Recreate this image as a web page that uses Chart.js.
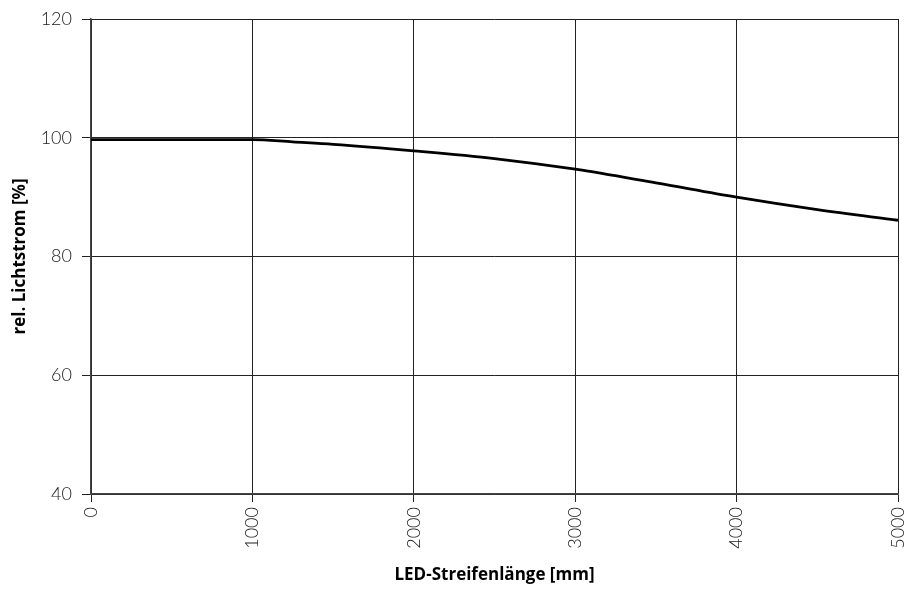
<!DOCTYPE html>
<html lang="de">
<head>
    <meta charset="UTF-8">
    <title>Lichtstrom vs. LED-Streifenlänge</title>
    <script src="https://cdn.jsdelivr.net/npm/chart.js"></script>
    <style>
        html, body { margin: 0; padding: 0; background: #fff; }
        #wrap { width: 909px; height: 590px; }
    </style>
</head>
<body>
<div id="wrap"><canvas id="chart"></canvas></div>
<script>
    // Werte
    const lengths = [0, 1000, 1250, 1500, 2000, 2500, 3000, 3500, 4000, 4500, 5000];
    const flux = [99.7, 99.7, 99.3, 98.9, 97.8, 96.5, 94.7, 92.4, 90.0, 87.9, 86.1];
    const xTicks = [0, 1000, 2000, 3000, 4000, 5000];
    const yTicks = [40, 60, 80, 100, 120];

    const points = lengths.map((x, i) => ({ x: x, y: flux[i] }));

    const tickFont = { family: 'Lato', size: 18, weight: '300' };
    const titleFont = { family: 'Open Sans', size: 17, weight: 'bold' };

    new Chart(document.getElementById('chart'), {
        type: 'line',
        data: {
            datasets: [{
                data: points,
                borderColor: '#000',
                borderWidth: 2.8,
                pointRadius: 0,
                tension: 0.3,
                cubicInterpolationMode: 'monotone',
                fill: false
            }]
        },
        options: {
            responsive: true,
            maintainAspectRatio: false,
            animation: false,
            layout: { padding: { top: 19, right: 11, left: 0, bottom: 0 } },
            plugins: { legend: { display: false }, tooltip: { enabled: false } },
            scales: {
                x: {
                    type: 'linear',
                    min: 0,
                    max: 5000,
                    afterBuildTicks: axis => { axis.ticks = xTicks.map(v => ({ value: v })); },
                    afterFit: axis => {
                        axis.height = 96;
                        axis.paddingLeft = 0;
                        axis.paddingRight = 0;
                    },
                    grid: { color: '#222', lineWidth: 1, tickLength: 8 },
                    border: { color: '#444', width: 1.5 },
                    ticks: {
                        color: '#1a1a1a',
                        font: tickFont,
                        maxRotation: 90,
                        minRotation: 90,
                        padding: 5,
                        callback: v => String(v)
                    },
                    title: {
                        display: true,
                        text: 'LED-Streifenlänge [mm]',
                        color: '#000',
                        font: titleFont,
                        padding: { top: 0, bottom: 5 }
                    }
                },
                y: {
                    min: 40,
                    max: 120,
                    afterBuildTicks: axis => { axis.ticks = yTicks.map(v => ({ value: v })); },
                    afterFit: axis => {
                        axis.width = 91;
                        axis.paddingTop = 0;
                        axis.paddingBottom = 0;
                    },
                    grid: { color: '#222', lineWidth: 1, tickLength: 9 },
                    border: { color: '#444', width: 1.5 },
                    ticks: {
                        color: '#1a1a1a',
                        font: tickFont,
                        padding: 10,
                        callback: v => String(v)
                    },
                    title: {
                        display: true,
                        text: 'rel. Lichtstrom [%]',
                        color: '#000',
                        font: titleFont,
                        padding: { top: 10, bottom: 0 }
                    }
                }
            }
        }
    });
</script>
</body>
</html>
